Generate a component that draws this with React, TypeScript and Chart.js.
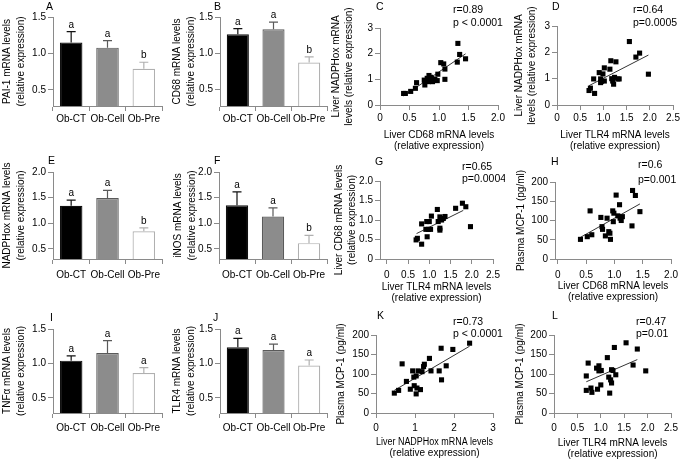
import React, { useEffect, useRef } from 'react';
import { Chart, registerables } from 'chart.js';

Chart.register(...registerables);

const FONT = "'Liberation Sans', Arial, Helvetica, sans-serif";
const AXIS = '#8a8a8a';

// ---------------- data ----------------
const groups = ['Ob-CT', 'Ob-Cell', 'Ob-Pre'];

const pai1Mean = [1.15, 1.08, 0.79];
const pai1Sem = [0.15, 0.095, 0.09];
const pai1Sig = ['a', 'a', 'b'];

const cd68Mean = [1.26, 1.33, 0.87];
const cd68Sem = [0.08, 0.1, 0.08];
const cd68Sig = ['a', 'a', 'b'];

const nadphMean = [1.34, 1.49, 0.84];
const nadphSem = [0.11, 0.15, 0.07];
const nadphSig = ['a', 'a', 'b'];

const inosMean = [1.35, 1.13, 0.61];
const inosSem = [0.26, 0.17, 0.15];
const inosSig = ['a', 'a', 'b'];

const tnfMean = [1.04, 1.15, 0.86];
const tnfSem = [0.07, 0.18, 0.08];
const tnfSig = ['a', 'a', 'a'];

const tlr4Mean = [1.235, 1.195, 0.97];
const tlr4Sem = [0.13, 0.085, 0.08];
const tlr4Sig = ['a', 'a', 'a'];

// tick values
const ticksBar15 = [0.5, 1.0, 1.5];
const ticksBar20 = [0.5, 1.0, 1.5, 2.0];
const ticksHalf20 = [0, 0.5, 1.0, 1.5, 2.0];
const ticksHalf25 = [0, 0.5, 1.0, 1.5, 2.0, 2.5];
const ticksInt3 = [0, 1, 2, 3];
const ticksMcp = [0, 50, 100, 150, 200];

// C: liver CD68 (x) vs liver NADPHox (y)
const cCd68 = [0.4, 0.43, 0.52, 0.6, 0.62, 0.75, 0.76, 0.76, 0.8, 0.82, 0.83, 0.86, 0.88, 0.89, 0.93, 0.97, 0.98, 1.03, 1.08, 1.1, 1.1, 1.31, 1.32, 1.35, 1.45];
const cNadph = [0.45, 0.45, 0.53, 0.65, 0.87, 0.97, 0.78, 0.95, 1.04, 0.91, 1.15, 1.08, 1.03, 0.91, 1.0, 0.95, 1.2, 1.65, 1.6, 1.4, 1.0, 1.67, 2.4, 1.97, 1.8];
const statsC = ['r=0.89', 'p < 0.0001'];

// D: liver TLR4 (x) vs liver NADPHox (y)
const dTlr4 = [1.56, 1.78, 1.7, 1.97, 1.16, 1.27, 1.02, 1.14, 0.91, 0.99, 0.79, 0.94, 0.96, 1.02, 1.2, 1.24, 1.31, 1.34, 1.22, 1.18, 0.81, 0.72, 0.69, 0.94];
const dNadph = [2.41, 1.97, 1.82, 1.17, 1.68, 1.64, 1.41, 1.36, 1.23, 1.18, 0.99, 0.99, 0.9, 0.91, 0.91, 1.05, 0.99, 0.99, 0.79, 1.0, 0.44, 0.64, 0.55, 0.85];
const statsD = ['r=0.64', 'p=0.0005'];

// G: liver TLR4 (x) vs liver CD68 (y)
const gTlr4 = [1.05, 1.19, 1.25, 0.94, 1.0, 0.82, 1.21, 1.33, 1.37, 1.29, 0.92, 0.98, 1.03, 1.25, 1.25, 0.95, 0.72, 0.69, 0.82, 1.62, 1.78, 1.86, 1.97];
const gCd68 = [1.1, 1.27, 1.08, 0.96, 0.96, 0.9, 0.96, 1.04, 1.09, 1.0, 0.76, 0.76, 0.76, 0.79, 0.74, 0.57, 0.53, 0.49, 0.38, 1.3, 1.43, 1.34, 0.83];
const gFitRange = [0.7, 1.8];
const statsG = ['r=0.65', 'p=0.0004'];

// H: liver CD68 (x) vs plasma MCP-1 (y)
const hCd68 = [0.4, 0.52, 0.6, 0.57, 0.76, 0.78, 0.79, 0.84, 0.87, 0.9, 0.92, 0.93, 0.97, 0.99, 0.98, 1.03, 1.09, 1.06, 1.1, 1.12, 1.14, 1.32, 1.37, 1.31, 1.45];
const hMcp = [51, 58, 63, 125, 108, 84, 77, 60, 106, 71, 67, 51, 125, 119, 97, 166, 141, 112, 106, 100, 110, 178, 165, 86, 123];
const statsH = ['r=0.6', 'p=0.001'];

// K: liver NADPHox (x) vs plasma MCP-1 (y)
const kNadph = [0.47, 0.58, 0.67, 0.78, 0.88, 0.94, 0.97, 0.98, 1.03, 1.05, 1.03, 1.08, 1.14, 1.18, 1.22, 1.24, 1.37, 1.41, 1.62, 1.67, 1.68, 1.8, 1.97, 2.4];
const kMcp = [51, 58, 126, 81, 61, 108, 92, 70, 95, 64, 49, 108, 60, 106, 119, 125, 140, 108, 108, 166, 85, 121, 163, 179];
const statsK = ['r=0.73', 'p < 0.0001'];

// L: liver TLR4 (x) vs plasma MCP-1 (y)
const lTlr4 = [0.73, 0.69, 0.69, 0.79, 0.81, 0.91, 0.96, 0.96, 1.01, 0.93, 1.0, 1.14, 1.17, 1.21, 1.19, 1.23, 1.26, 1.23, 1.29, 1.32, 1.54, 1.69, 1.78, 1.96];
const lMcp = [128, 95, 58, 64, 53, 115, 121, 108, 109, 61, 72, 142, 92, 85, 51, 77, 109, 111, 168, 98, 180, 123, 164, 108];
const lFitRange = [0.69, 1.78];
const statsL = ['r=0.47', 'p=0.01'];

// ---------------- helpers ----------------
type Pt = { x: number; y: number };
const zip = (xs: number[], ys: number[]): Pt[] => xs.map((x, i) => ({ x, y: ys[i] }));

function fitLine(xs: number[], ys: number[], range?: number[]): Pt[] {
  const n = xs.length;
  const mx = xs.reduce((a, b) => a + b, 0) / n;
  const my = ys.reduce((a, b) => a + b, 0) / n;
  let sxy = 0;
  let sxx = 0;
  for (let i = 0; i < n; i++) {
    sxy += (xs[i] - mx) * (ys[i] - my);
    sxx += (xs[i] - mx) * (xs[i] - mx);
  }
  const b = sxy / sxx;
  const a = my - b * mx;
  const x0 = range ? range[0] : Math.min(...xs);
  const x1 = range ? range[1] : Math.max(...xs);
  return [
    { x: x0, y: a + b * x0 },
    { x: x1, y: a + b * x1 },
  ];
}

const fmt1 = (v: number) => v.toFixed(1);
const fmtHalf = (v: number) => (v === 0 ? '0' : v.toFixed(1));
const fmtInt = (v: number) => String(v);

interface Spec {
  key: string;
  canvas: [number, number, number, number];
  plot: [number, number, number, number];
  letter: string;
  letterAt: [number, number];
  notes?: { text: string; x: number; y: number }[];
  yTitle: string | string[];
  yTitleLH: number;
  yTitleX: number;
  xTitle?: string[];
  xTitleLastY?: number;
  xTitleLH?: number;
  yTicks: number[];
  yMin: number;
  yMax: number;
  yFmt: (v: number) => string;
  xTickGap: number;
  bar?: { mean: number[]; sem: number[]; sig: string[] };
  scatter?: { xs: number[]; ys: number[]; fitRange?: number[]; xMin: number; xMax: number; xTicks: number[]; xFmt: (v: number) => string };
}

const barFill = ['#000000', '#8c8c8c', '#ffffff'];
const barEdge = ['#111111', '#5a5a5a', '#b0b0b0'];

const textPlugin = {
  id: 'panelText',
  afterDraw(chart: any, _args: any, opts: any) {
    const ctx = chart.ctx;
    ctx.save();
    (opts.items || []).forEach((it: any) => {
      ctx.font = `${it.size}px ${FONT}`;
      ctx.fillStyle = '#000';
      ctx.textAlign = 'left';
      ctx.textBaseline = 'middle';
      ctx.fillText(it.text, it.x - opts.ox, it.y - opts.oy);
    });
    ctx.restore();
  },
};

const errorPlugin = {
  id: 'errorBars',
  afterDatasetsDraw(chart: any, _args: any, opts: any) {
    if (!opts.mean) return;
    const meta = chart.getDatasetMeta(0);
    const ys = chart.scales.y;
    const ctx = chart.ctx;
    ctx.save();
    meta.data.forEach((el: any, i: number) => {
      const m = opts.mean[i];
      const s = opts.sem[i];
      const yBar = ys.getPixelForValue(m);
      const yTop = ys.getPixelForValue(m + s);
      const x = el.x;
      ctx.strokeStyle = opts.colors[i];
      ctx.lineWidth = 1.2;
      ctx.beginPath();
      ctx.moveTo(x, yBar);
      ctx.lineTo(x, yTop);
      ctx.moveTo(x - 4.5, yTop);
      ctx.lineTo(x + 4.5, yTop);
      ctx.stroke();
      ctx.fillStyle = '#000';
      ctx.font = `10px ${FONT}`;
      ctx.textAlign = 'center';
      ctx.textBaseline = 'alphabetic';
      ctx.fillText(opts.sig[i], x, yTop - 4);
    });
    ctx.restore();
  },
};

function buildConfig(s: Spec): any {
  const [cx, cy, cw, ch] = s.canvas;
  const [pl, pt, pr, pb] = s.plot;
  const ML = pl - cx;
  const MT = pt - cy;
  const MR = cx + cw - pr;
  const MB = cy + ch - pb;
  const tickFont = { family: FONT, size: 10 };
  const yLH = 10 * s.yTitleLH;
  const grid = { display: true, drawOnChartArea: false, drawTicks: true, tickLength: 5, color: AXIS, lineWidth: 1 };
  const border = { display: true, color: AXIS, width: 1 };

  const yAxis: any = {
    type: 'linear',
    min: s.yMin,
    max: s.yMax,
    afterBuildTicks: (sc: any) => {
      sc.ticks = s.yTicks.map((v) => ({ value: v }));
    },
    afterFit: (sc: any) => {
      sc.width = ML;
    },
    ticks: { color: '#000', font: tickFont, padding: 2, callback: (v: any) => s.yFmt(Number(v)) },
    grid,
    border,
    title: {
      display: true,
      text: s.yTitle,
      color: '#000',
      font: { family: FONT, size: 10, lineHeight: s.yTitleLH },
      padding: { top: Math.max(0, s.yTitleX - cx - yLH / 2), bottom: 0 },
    },
  };

  const items = [{ text: s.letter, x: s.letterAt[0], y: s.letterAt[1], size: 10.5 }].concat(
    (s.notes || []).map((n) => ({ text: n.text, x: n.x, y: n.y, size: 10.5 }))
  );

  const common: any = {
    animation: false,
    responsive: false,
    maintainAspectRatio: false,
    events: [],
    layout: { padding: { left: 0, top: MT, right: MR, bottom: 0 } },
  };

  if (s.bar) {
    return {
      type: 'bar',
      data: {
        labels: groups,
        datasets: [
          {
            data: s.bar.mean,
            backgroundColor: barFill,
            borderColor: barEdge,
            borderWidth: 1.2,
            barPercentage: 0.62,
            categoryPercentage: 1,
          },
        ],
      },
      options: {
        ...common,
        plugins: {
          legend: { display: false },
          tooltip: { enabled: false },
          panelText: { items, ox: cx, oy: cy },
          errorBars: { mean: s.bar.mean, sem: s.bar.sem, sig: s.bar.sig, colors: barEdge },
        },
        scales: {
          x: {
            type: 'category',
            offset: true,
            afterFit: (sc: any) => {
              sc.height = MB;
            },
            ticks: { color: '#000', font: tickFont, padding: s.xTickGap - 11, maxRotation: 0, autoSkip: false },
            grid: { ...grid, offset: true },
            border,
          },
          y: yAxis,
        },
      },
      plugins: [errorPlugin, textPlugin],
    };
  }

  const sc = s.scatter!;
  const xLH = 10 * (s.xTitleLH || 1.1);
  return {
    type: 'scatter',
    data: {
      datasets: [
        {
          type: 'scatter',
          data: zip(sc.xs, sc.ys),
          pointStyle: 'rect',
          pointRadius: 3.6,
          pointBackgroundColor: '#000',
          pointBorderWidth: 0,
          backgroundColor: '#000',
        },
        {
          type: 'line',
          data: fitLine(sc.xs, sc.ys, sc.fitRange),
          borderColor: '#333',
          borderWidth: 1,
          pointRadius: 0,
          fill: false,
          tension: 0,
        },
      ],
    },
    options: {
      ...common,
      plugins: {
        legend: { display: false },
        tooltip: { enabled: false },
        panelText: { items, ox: cx, oy: cy },
      },
      scales: {
        x: {
          type: 'linear',
          min: sc.xMin,
          max: sc.xMax,
          afterBuildTicks: (scale: any) => {
            scale.ticks = sc.xTicks.map((v) => ({ value: v }));
          },
          afterFit: (scale: any) => {
            scale.height = MB;
          },
          ticks: { color: '#000', font: tickFont, padding: s.xTickGap - 11, maxRotation: 0, callback: (v: any) => sc.xFmt(Number(v)) },
          grid,
          border,
          title: {
            display: true,
            text: s.xTitle,
            color: '#000',
            font: { family: FONT, size: 10, lineHeight: s.xTitleLH || 1.1 },
            padding: { top: 0, bottom: Math.max(0, cy + ch - (s.xTitleLastY || 0) - xLH / 2) },
          },
        },
        y: yAxis,
      },
    },
    plugins: [textPlugin],
  };
}

const panels: Spec[] = [
  {
    key: 'A', canvas: [0, 0, 170, 150], plot: [53, 17, 162, 106], letter: 'A', letterAt: [46, 7.5],
    yTitle: ['PAI-1 mRNA levels', '(relative expression)'], yTitleLH: 1.4, yTitleX: 7,
    yTicks: ticksBar15, yMin: 0.28, yMax: 1.5, yFmt: fmt1, xTickGap: 13,
    bar: { mean: pai1Mean, sem: pai1Sem, sig: pai1Sig },
  },
  {
    key: 'B', canvas: [168, 0, 167, 150], plot: [220, 17, 327, 106], letter: 'B', letterAt: [214, 7.5],
    yTitle: ['CD68 mRNA levels', '(relative expression)'], yTitleLH: 1.4, yTitleX: 177.7,
    yTicks: ticksBar15, yMin: 0.27, yMax: 1.5, yFmt: fmt1, xTickGap: 13,
    bar: { mean: cd68Mean, sem: cd68Sem, sig: cd68Sig },
  },
  {
    key: 'C', canvas: [325, 0, 185, 155], plot: [380, 28, 498, 105], letter: 'C', letterAt: [376, 7.5],
    notes: [{ text: statsC[0], x: 453, y: 10 }, { text: statsC[1], x: 453, y: 23 }],
    yTitle: ['Liver NADPHox mRNA', 'levels (relative expression)'], yTitleLH: 1.3, yTitleX: 336,
    xTitle: ['Liver CD68 mRNA levels', '(relative expression)'], xTitleLastY: 146, xTitleLH: 1.1,
    yTicks: ticksInt3, yMin: 0, yMax: 3, yFmt: fmtInt, xTickGap: 13,
    scatter: { xs: cCd68, ys: cNadph, xMin: 0, xMax: 2, xTicks: ticksHalf20, xFmt: fmtHalf },
  },
  {
    key: 'D', canvas: [505, 0, 178, 155], plot: [557, 26, 673, 105], letter: 'D', letterAt: [552, 7.5],
    notes: [{ text: statsD[0], x: 633, y: 10 }, { text: statsD[1], x: 633, y: 23 }],
    yTitle: ['Liver NADPHox mRNA', 'levels (relative expression)'], yTitleLH: 1.3, yTitleX: 519,
    xTitle: ['Liver TLR4 mRNA levels', '(relative expression)'], xTitleLastY: 146, xTitleLH: 1.1,
    yTicks: ticksInt3, yMin: 0, yMax: 3, yFmt: fmtInt, xTickGap: 13,
    scatter: { xs: dTlr4, ys: dNadph, xMin: 0, xMax: 2.5, xTicks: ticksHalf25, xFmt: fmtHalf },
  },
  {
    key: 'E', canvas: [0, 150, 170, 150], plot: [53, 172, 162, 259], letter: 'E', letterAt: [48, 161],
    yTitle: ['NADPHox mRNA levels', '(relative expression)'], yTitleLH: 1.4, yTitleX: 7,
    yTicks: ticksBar20, yMin: 0.3, yMax: 2.0, yFmt: fmt1, xTickGap: 16.5,
    bar: { mean: nadphMean, sem: nadphSem, sig: nadphSig },
  },
  {
    key: 'F', canvas: [168, 150, 167, 150], plot: [219, 172, 327, 259], letter: 'F', letterAt: [214, 161],
    yTitle: ['iNOS mRNA levels', '(relative expression)'], yTitleLH: 1.4, yTitleX: 178.3,
    yTicks: ticksBar20, yMin: 0.3, yMax: 2.0, yFmt: fmt1, xTickGap: 16.5,
    bar: { mean: inosMean, sem: inosSem, sig: inosSig },
  },
  {
    key: 'G', canvas: [325, 150, 180, 155], plot: [380, 181, 493, 259], letter: 'G', letterAt: [375, 162],
    notes: [{ text: statsG[0], x: 462, y: 167 }, { text: statsG[1], x: 462, y: 179 }],
    yTitle: ['Liver CD68 mRNA levels', '(relative expression)'], yTitleLH: 1.3, yTitleX: 339,
    xTitle: ['Liver TLR4 mRNA levels', '(relative expression)'], xTitleLastY: 298, xTitleLH: 1.1,
    yTicks: ticksHalf20, yMin: 0, yMax: 2, yFmt: fmtHalf, xTickGap: 16,
    scatter: { xs: gTlr4, ys: gCd68, fitRange: gFitRange, xMin: -0.16, xMax: 2.5, xTicks: ticksHalf25, xFmt: fmtHalf },
  },
  {
    key: 'H', canvas: [505, 150, 178, 155], plot: [555, 182, 674, 259], letter: 'H', letterAt: [551, 162],
    notes: [{ text: statsH[0], x: 638, y: 165 }, { text: statsH[1], x: 638, y: 180 }],
    yTitle: 'Plasma MCP-1 (pg/ml)', yTitleLH: 1.3, yTitleX: 521,
    xTitle: ['Liver CD68 mRNA levels', '(relative expression)'], xTitleLastY: 297, xTitleLH: 1.1,
    yTicks: ticksMcp, yMin: 0, yMax: 200, yFmt: fmtInt, xTickGap: 16,
    scatter: { xs: hCd68, ys: hMcp, xMin: -0.05, xMax: 2, xTicks: ticksHalf20, xFmt: fmtHalf },
  },
  {
    key: 'I', canvas: [0, 300, 170, 163], plot: [53, 329, 162, 413], letter: 'I', letterAt: [50, 318],
    yTitle: ['TNFα mRNA levels', '(relative expression)'], yTitleLH: 1.4, yTitleX: 7.3,
    yTicks: ticksBar15, yMin: 0.28, yMax: 1.5, yFmt: fmt1, xTickGap: 15,
    bar: { mean: tnfMean, sem: tnfSem, sig: tnfSig },
  },
  {
    key: 'J', canvas: [168, 300, 167, 163], plot: [220, 329, 327, 413], letter: 'J', letterAt: [213, 318],
    yTitle: ['TLR4 mRNA levels', '(relative expression)'], yTitleLH: 1.4, yTitleX: 177.3,
    yTicks: ticksBar15, yMin: 0.28, yMax: 1.5, yFmt: fmt1, xTickGap: 15,
    bar: { mean: tlr4Mean, sem: tlr4Sem, sig: tlr4Sig },
  },
  {
    key: 'K', canvas: [325, 300, 180, 163], plot: [376, 335, 493, 413], letter: 'K', letterAt: [377, 316],
    notes: [{ text: statsK[0], x: 453, y: 322 }, { text: statsK[1], x: 453, y: 334 }],
    yTitle: 'Plasma MCP-1 (pg/ml)', yTitleLH: 1.3, yTitleX: 341,
    xTitle: ['Liver NADPHox mRNA levels', '(relative expression)'], xTitleLastY: 453, xTitleLH: 1.1,
    yTicks: ticksMcp, yMin: 0, yMax: 200, yFmt: fmtInt, xTickGap: 15,
    scatter: { xs: kNadph, ys: kMcp, xMin: 0, xMax: 3, xTicks: ticksInt3, xFmt: fmtInt },
  },
  {
    key: 'L', canvas: [505, 300, 178, 163], plot: [554, 335, 671, 413], letter: 'L', letterAt: [552, 316],
    notes: [{ text: statsL[0], x: 636, y: 322 }, { text: statsL[1], x: 636, y: 334 }],
    yTitle: 'Plasma MCP-1 (pg/ml)', yTitleLH: 1.3, yTitleX: 520,
    xTitle: ['Liver TLR4 mRNA levels', '(relative expression)'], xTitleLastY: 454, xTitleLH: 1.1,
    yTicks: ticksMcp, yMin: 0, yMax: 200, yFmt: fmtInt, xTickGap: 15,
    scatter: { xs: lTlr4, ys: lMcp, fitRange: lFitRange, xMin: 0, xMax: 2.5, xTicks: ticksHalf25, xFmt: fmtHalf },
  },
];

function PanelChart({ spec }: { spec: Spec }) {
  const ref = useRef<HTMLCanvasElement | null>(null);
  useEffect(() => {
    if (!ref.current) return;
    const chart = new Chart(ref.current, buildConfig(spec));
    return () => chart.destroy();
  }, [spec]);
  const [x, y, w, h] = spec.canvas;
  return (
    <div style={{ position: 'absolute', left: x, top: y, width: w, height: h }}>
      <canvas ref={ref} width={w} height={h} style={{ display: 'block', width: w, height: h }} />
    </div>
  );
}

export default function App() {
  return (
    <div
      style={{
        position: 'absolute',
        left: 0,
        top: 0,
        width: 683,
        height: 463,
        overflow: 'hidden',
        background: '#ffffff',
        fontFamily: FONT,
      }}
    >
      {panels.map((p) => (
        <PanelChart key={p.key} spec={p} />
      ))}
    </div>
  );
}
